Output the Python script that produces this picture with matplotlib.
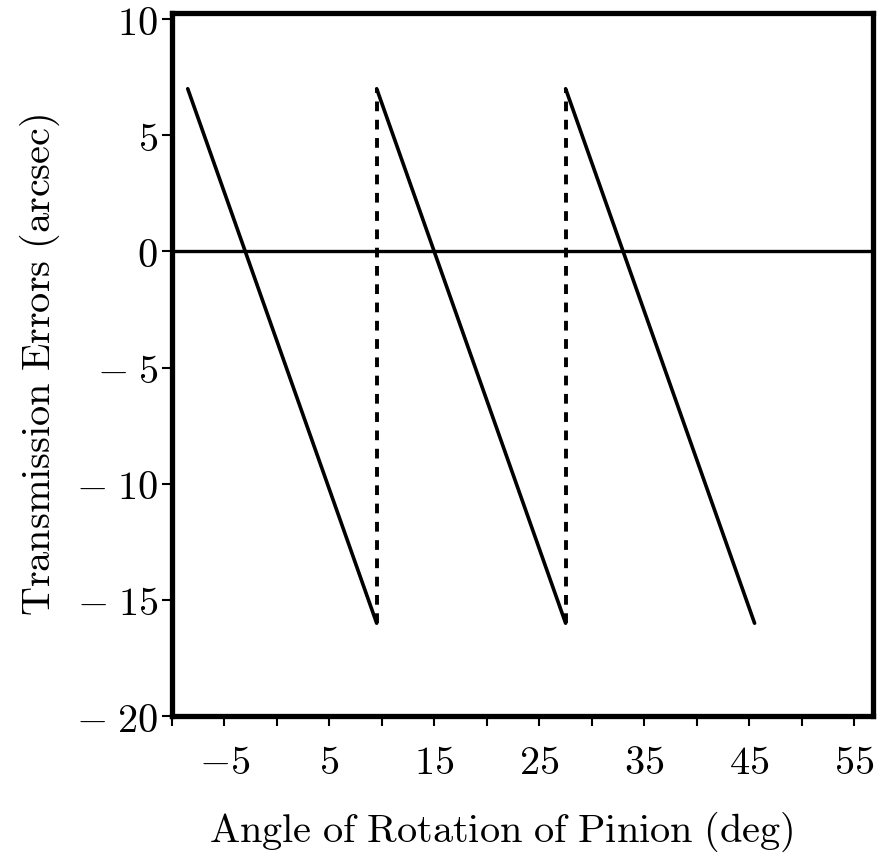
import matplotlib
matplotlib.use('Agg')
import matplotlib.pyplot as plt

plt.rcParams['mathtext.fontset'] = 'cm'

# dados (erro de transmissão vs ângulo do pinhão)
seg_inicio = [-8.5, 9.5, 27.5]
seg_fim = [9.5, 27.5, 45.5]
erro_topo = 7
erro_base = -16
saltos = [9.5, 27.5]

x_major = [-5, 5, 15, 25, 35, 45, 55]
x_minor = [-10, 0, 10, 20, 30, 40, 50]
y_ticks = [10, 5, 0, -5, -10, -15, -20]
x_labels = [r'$-5$', r'$5$', r'$15$', r'$25$', r'$35$', r'$45$', r'$55$']
y_labels = [r'$10$', r'$5$', r'$0$', r'$-\;5$', r'$-\;10$', r'$-\;15$', r'$-\;20$']

fig = plt.figure(figsize=(8.82, 8.67), dpi=100)
ax = fig.add_axes([0.195, 0.174, 0.795, 0.811])

for a, b in zip(seg_inicio, seg_fim):
    ax.plot([a, b], [erro_topo, erro_base], color='black', lw=2.6, solid_capstyle='round')

for s in saltos:
    ax.plot([s, s], [erro_base, erro_topo], color='black', lw=2.8, ls=(0, (2.5, 2.2)))

ax.axhline(0, color='black', lw=2.4)

ax.set_xlim(-10, 56.8)
ax.set_ylim(-20, 10.26)

ax.set_xticks(x_major)
ax.set_xticklabels(x_labels, fontsize=29)
ax.set_xticks(x_minor, minor=True)
ax.set_yticks(y_ticks)
ax.set_yticklabels(y_labels, fontsize=29)

ax.tick_params(axis='x', which='both', direction='out', length=7, width=1.5, pad=12)
ax.tick_params(axis='y', direction='out', length=7, width=1.5, pad=3)

for sp in ax.spines.values():
    sp.set_linewidth(3.8)

ax.set_xlabel(r'$\mathrm{Angle\ of\ Rotation\ of\ Pinion\ (deg)}$', fontsize=29)
ax.xaxis.set_label_coords(0.47, -0.133)
ax.set_ylabel(r'$\mathrm{Transmission\ Errors\ (arcsec)}$', fontsize=29, labelpad=10)

fig.savefig('out.png', dpi=100, facecolor='white')
